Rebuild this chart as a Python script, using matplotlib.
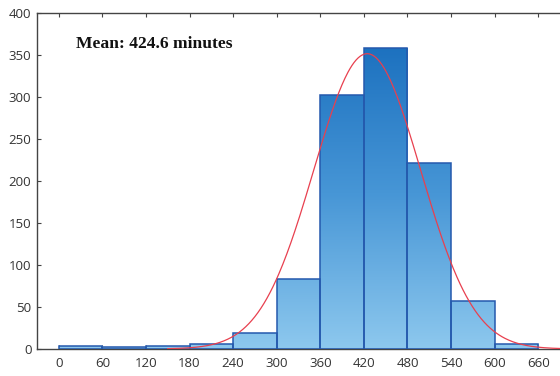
import matplotlib
matplotlib.use("Agg")
import matplotlib.pyplot as plt
import numpy as np
from matplotlib.colors import LinearSegmentedColormap

# data
bin_left = [0, 60, 120, 180, 240, 300, 360, 420, 480, 540, 600]
counts = [3, 2, 3, 6, 19, 83, 303, 358, 221, 57, 6]
bin_width = 60
x_ticks = [0, 60, 120, 180, 240, 300, 360, 420, 480, 540, 600, 660]
y_ticks = [0, 50, 100, 150, 200, 250, 300, 350, 400]

# fitted normal curve
fit_mean = 424.6
fit_std = 73.5
fit_n = 1080

fig = plt.figure(figsize=(5.6, 3.76), dpi=100)
ax = fig.add_axes([0.066, 0.072, 0.934, 0.893])

xlim = (-30, 690)
ylim = (0, 400)

cmap = LinearSegmentedColormap.from_list("blues", ["#8dc8ee", "#4796d6", "#1a6fbe"])
grad = np.linspace(0, 1, 256).reshape(-1, 1)

bars = ax.bar(bin_left, counts, width=bin_width, align="edge",
              facecolor="none", edgecolor="#2459ad", linewidth=1.1, zorder=3)
for b in bars:
    im = ax.imshow(grad, cmap=cmap, origin="lower", aspect="auto",
                   extent=[xlim[0], xlim[1], 0, 370], zorder=2)
    im.set_clip_path(b)
ax.set_xlim(*xlim)
ax.set_ylim(*ylim)

xs = np.linspace(150, 700, 400)
ys = fit_n * bin_width / (fit_std * np.sqrt(2 * np.pi)) * np.exp(-0.5 * ((xs - fit_mean) / fit_std) ** 2)
ax.plot(xs, ys, color="#e8404f", linewidth=0.9, zorder=4)

ax.set_xticks(x_ticks)
ax.set_yticks(y_ticks)
ax.tick_params(direction="in", length=3, width=0.8, color="#444444",
               labelsize=9.5, labelcolor="#333333", top=True, right=False, pad=4)
ax.tick_params(axis="x", pad=6)
for lab in ax.get_xticklabels() + ax.get_yticklabels():
    lab.set_fontfamily("Open Sans")

for s in ["left", "top", "bottom"]:
    ax.spines[s].set_color("#444444")
    ax.spines[s].set_linewidth(1.0)
ax.spines["right"].set_visible(False)

ax.text(24, 363, "Mean: 424.6 minutes", fontsize=12.6, fontweight="bold",
        family="Liberation Serif", color="#111111", va="center", ha="left")

fig.savefig("out.png", dpi=100)
